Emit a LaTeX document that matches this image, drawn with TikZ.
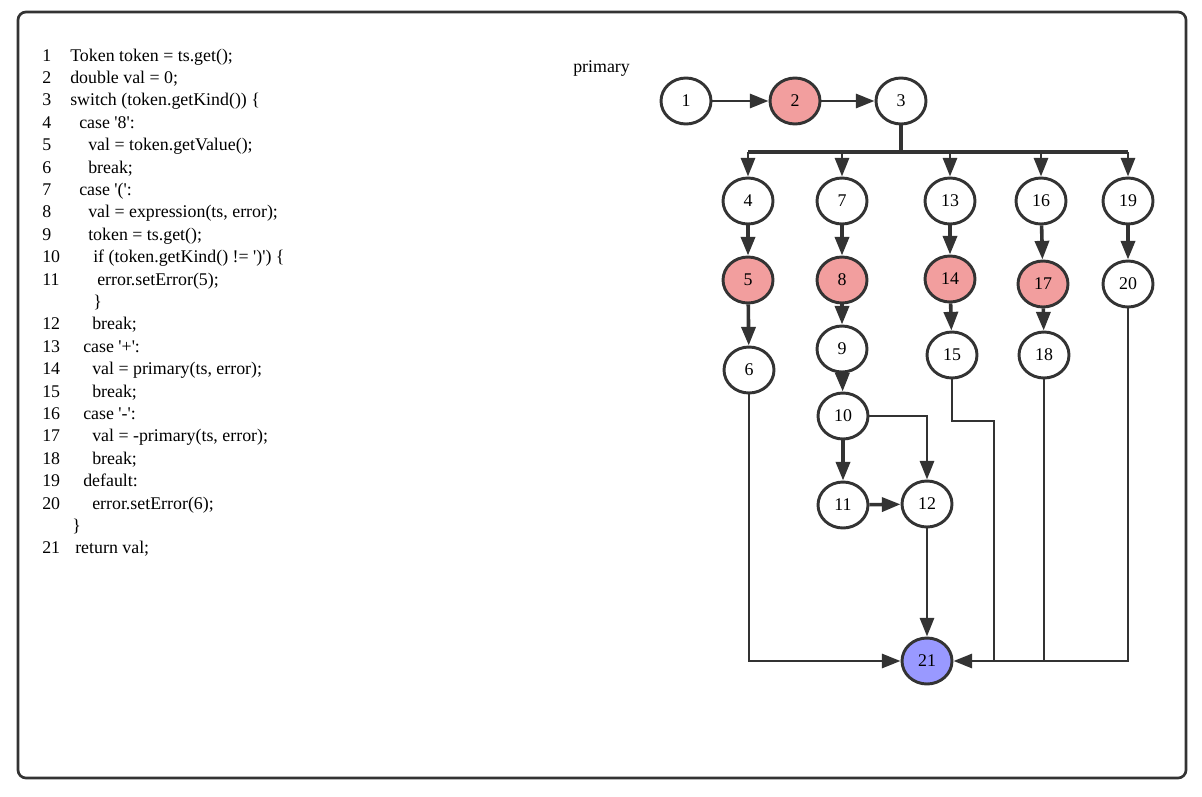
\documentclass[tikz,border=0pt]{standalone}
\usepackage{fontspec}
\setmainfont{Liberation Serif}
\usetikzlibrary{positioning,shapes.geometric,arrows.meta}
\definecolor{linec}{HTML}{333333}
\definecolor{hitred}{HTML}{F29E9E}
\definecolor{exitblue}{HTML}{9999FF}

\begin{document}
\begin{tikzpicture}[x=0.75pt,y=-0.75pt,font=\fontsize{13.4}{15}\selectfont,
  vtx/.style={ellipse,draw=linec,line width=2.2pt,fill=white,minimum width=37.5pt,minimum height=34.5pt,inner sep=0pt},
  hit/.style={vtx,fill=hitred},
  exitvtx/.style={vtx,fill=exitblue},
  wire/.style={draw=linec,line width=2.2pt},
  arr/.style={wire,-{Triangle[length=14pt,width=10.5pt]}},
  stub/.style={arr,line width=2.7pt,-{Triangle[length=14pt,width=10.5pt]}},
  code/.style={anchor=base west,inner sep=0pt}]
\useasboundingbox (0,0) rectangle (1202,796);
\draw[linec,line width=2pt,rounded corners=6pt] (18,12) rectangle (1186,778);

% listing
\foreach \i/\n/\x/\t in {0/1/70/{Token token = ts.get();},
  1/2/70/{double val = 0;},
  2/3/70/{switch (token.getKind()) \{},
  3/4/79/{case \textquotesingle 8\textquotesingle:},
  4/5/88/{val = token.getValue();},
  5/6/88/{break;},
  6/7/79/{case \textquotesingle(\textquotesingle:},
  7/8/88/{val = expression(ts, error);},
  8/9/88/{token = ts.get();},
  9/10/93/{if (token.getKind() != \textquotesingle)\textquotesingle) \{},
  10/11/97/{error.setError(5);},
  11/{}/93/{\}},
  12/12/92/{break;},
  13/13/83/{case \textquotesingle+\textquotesingle:},
  14/14/92/{val = primary(ts, error);},
  15/15/92/{break;},
  16/16/83/{case \textquotesingle-\textquotesingle:},
  17/17/92/{val = -primary(ts, error);},
  18/18/92/{break;},
  19/19/83/{default:},
  20/20/92/{error.setError(6);},
  21/{}/72/{\}},
  22/21/75/{return val;}}{
  \node[code] (ln\i) at (42,61+22.4*\i) {\n};
  \node[code] (lt\i) at (\x,61+22.4*\i) {\t};
}

% flow graph
\node[anchor=west,inner sep=0pt] (title) at (573,69) {primary};
\node[vtx] (n1) at (686,101) {1};
\node[hit] (n2) at (795,101) {2};
\node[vtx] (n3) at (901,101) {3};
\node[vtx] (n4) at (748,201) {4};
\node[vtx] (n7) at (842,201) {7};
\node[vtx] (n13) at (950,201) {13};
\node[vtx] (n16) at (1041,201) {16};
\node[vtx] (n19) at (1128,201) {19};
\node[hit] (n5) at (748,280) {5};
\node[hit] (n8) at (842,280) {8};
\node[hit] (n14) at (950,279) {14};
\node[hit] (n17) at (1043,284) {17};
\node[vtx] (n20) at (1128,284) {20};
\node[vtx] (n6) at (749,370) {6};
\node[vtx] (n9) at (842,349) {9};
\node[vtx] (n15) at (952,355) {15};
\node[vtx] (n18) at (1044,355) {18};
\node[vtx] (n10) at (843,416) {10};
\node[vtx] (n11) at (843,505) {11};
\node[vtx] (n12) at (927,504) {12};
\node[exitvtx] (n21) at (927,661) {21};

\coordinate (barL) at (748,152);
\coordinate (barR) at (1128,152);
\coordinate (jog) at (994,421);

\draw[arr] (n1) -- (n2);
\draw[arr] (n2) -- (n3);
\draw[wire,line width=3pt] (n3) -- (n3 |- barL);
\draw[wire,line width=2.3pt] (barL) -- (barR);
\foreach \v in {4,7,13,16,19}
  \draw[arr] (n\v.north |- barL) -- (n\v);
\foreach \a/\b in {4/5,5/6,7/8,8/9,9/10,10/11,13/14,14/15,16/17,17/18,19/20,11/12}
  \draw[stub] (n\a) -- (n\b);
\draw[arr] (n12) -- (n21);
\draw[arr] (n10.east) -| (n12);
\draw[arr] (n6) |- (n21);
\draw[arr] (n20) |- (n21);
\draw[wire] (n18) -- (n18 |- n21);
\draw[wire] (n15) |- (jog) -- (jog |- n21);
\end{tikzpicture}
\end{document}
